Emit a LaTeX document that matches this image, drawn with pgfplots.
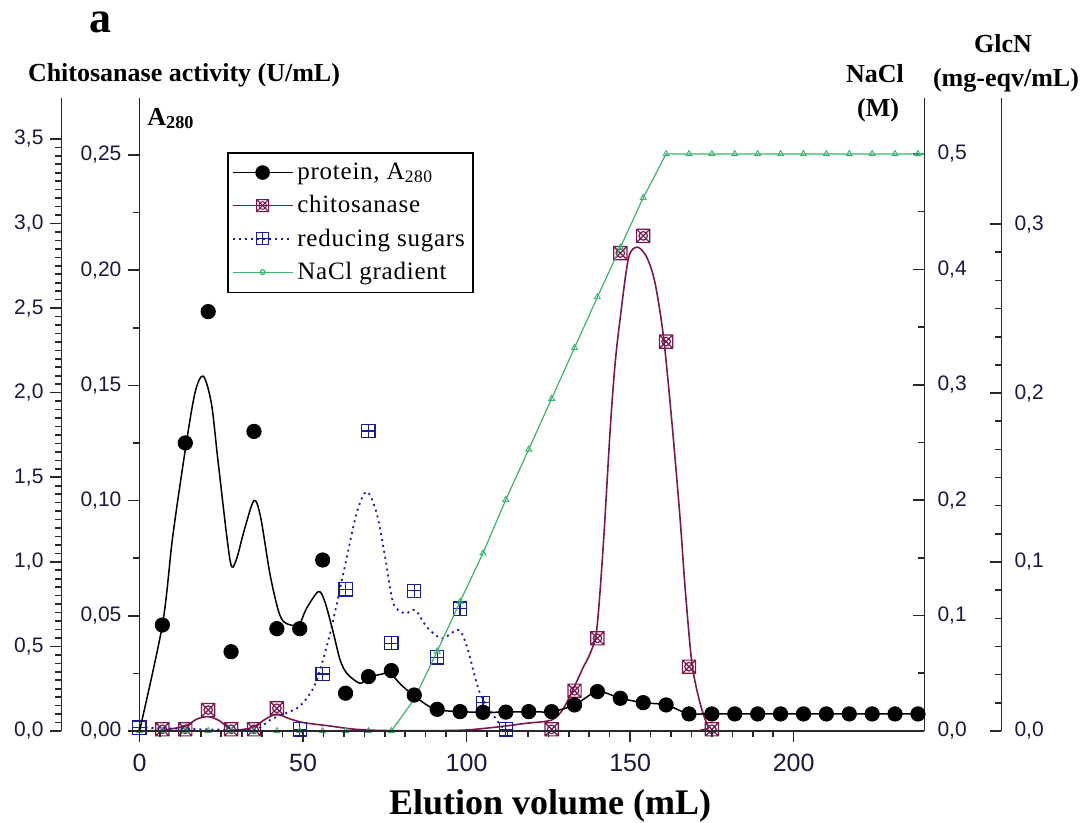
\documentclass[border=0pt]{standalone}
\usepackage{fontspec}
\setmainfont{Liberation Serif}
\newfontfamily\arial{Liberation Sans}
\usepackage{pgfplots}
\pgfplotsset{compat=1.18}
\definecolor{maroonc}{RGB}{122,24,78}
\definecolor{navyc}{RGB}{28,28,150}
\definecolor{greenc}{RGB}{60,179,113}
\definecolor{tickc}{RGB}{25,25,60}
\definecolor{axc}{RGB}{40,40,40}

\pgfdeclareplotmark{boxx}{%
  \pgfpathrectangle{\pgfpoint{-\pgfplotmarksize}{-\pgfplotmarksize}}{\pgfpoint{2\pgfplotmarksize}{2\pgfplotmarksize}}%
  \pgfpathmoveto{\pgfpoint{-\pgfplotmarksize}{-\pgfplotmarksize}}%
  \pgfpathlineto{\pgfpoint{\pgfplotmarksize}{\pgfplotmarksize}}%
  \pgfpathmoveto{\pgfpoint{-\pgfplotmarksize}{\pgfplotmarksize}}%
  \pgfpathlineto{\pgfpoint{\pgfplotmarksize}{-\pgfplotmarksize}}%
  \pgfpathcircle{\pgfpointorigin}{0.65\pgfplotmarksize}%
  \pgfusepathqstroke}
\pgfdeclareplotmark{boxplus}{%
  \pgfpathrectangle{\pgfpoint{-\pgfplotmarksize}{-\pgfplotmarksize}}{\pgfpoint{2\pgfplotmarksize}{2\pgfplotmarksize}}%
  \pgfpathmoveto{\pgfpoint{-\pgfplotmarksize}{0pt}}%
  \pgfpathlineto{\pgfpoint{\pgfplotmarksize}{0pt}}%
  \pgfpathmoveto{\pgfpoint{0pt}{-\pgfplotmarksize}}%
  \pgfpathlineto{\pgfpoint{0pt}{\pgfplotmarksize}}%
  \pgfusepathqstroke}

\tikzset{titlelab/.style={font=\bfseries\fontsize{13}{17}\selectfont, inner sep=0pt}}
\pgfplotsset{
  base/.style={scale only axis, width=392.5pt, height=316.5pt,
    xmin=0, xmax=240, at={(0pt,0pt)}, anchor=south west,
    axis line style={line width=0.9pt, axc},
    major tick length=5.5pt, minor tick length=3pt,
    every tick/.append style={line width=0.8pt, axc},
    ticklabel style={font=\arial\fontsize{10.5}{12}\selectfont, text=tickc},
    /pgf/number format/assume math mode=true,
    yticklabel style={/pgf/number format/fixed, /pgf/number format/fixed zerofill, /pgf/number format/use comma},
  },
}

\begin{document}
\begin{tikzpicture}
\path[use as bounding box] (-69.75pt,-46pt) rectangle (471.75pt,365.5pt);

% ---------- chitosanase (outer left axis)
\begin{axis}[base, ymin=0, ymax=3.742,
  axis x line=none, axis y line*=left, tick align=outside,
  ytick={0,0.5,1,1.5,2,2.5,3,3.5}, minor y tick num=9,
  y axis line style={xshift=-39pt}, ytick style={xshift=-39pt},
  yticklabel style={xshift=-39pt, /pgf/number format/precision=1},
  ylabel={Chitosanase activity (U/mL)},
  every axis y label/.style={at={(axis description cs:0.0567,1.0253)}, anchor=base, titlelab},
]
\addplot[maroonc, line width=0.8pt, smooth, tension=0.5] coordinates {
(0,0) (7,0.005) (14,0.03) (17.5,0.07) (21,0.085) (24.5,0.06) (28,0.008) (32,0.01)
(35,0.025) (38.5,0.07) (42,0.10) (45.5,0.075) (50,0.05) (58,0.03) (65,0.012) (72,0.004)
(80,0.002) (90,0.002) (100,0.006) (110,0.025) (118,0.045) (126,0.065) (129.5,0.13)
(132.9,0.26) (135.5,0.37) (137.8,0.46) (139.8,0.60) (141.8,1.10) (143.9,1.78) (145.4,2.17)
(146.9,2.43) (149.5,2.795) (152.2,2.86) (155.1,2.80) (157.6,2.65) (160.2,2.33) (162.8,1.82)
(165.3,1.25) (166.8,0.85) (168.9,0.40) (171.4,0.164) (173.9,0.025) (176,0) (240,0)};
\addplot[maroonc, only marks, mark=boxx, mark size=3.3pt, mark options={line width=0.6pt}] coordinates {
(7,0.01) (14,0.01) (21,0.124) (28,0.01) (35,0.01) (42,0.134) (126,0.01) (133,0.238)
(140,0.548) (147,2.825) (154,2.927) (161,2.302) (168,0.38) (175,0.01)};
\end{axis}

% ---------- GlcN (outer right axis): reducing sugars
\begin{axis}[base, ymin=0, ymax=0.3746,
  axis x line=none, axis y line*=right, tick align=inside,
  ytick={0,0.1,0.2,0.3}, minor y tick num=5,
  y axis line style={xshift=38.5pt}, ytick style={xshift=38.5pt},
  yticklabel style={xshift=41.5pt, /pgf/number format/precision=1},
  extra description/.code={
    \node[titlelab, anchor=base] at (axis description cs:1.1,1.0711) {GlcN};
    \node[titlelab, anchor=base] at (axis description cs:1.1038,1.0174) {(mg-eqv/mL)};
  },
]
\addplot[navyc, line width=0.9pt, dash pattern=on 1pt off 2pt, smooth, tension=0.5] coordinates {
(0,0.002) (20,0.001) (35,0.001) (39.9,0.0065) (44,0.010) (48.1,0.0134) (51,0.019) (54.2,0.030)
(58.3,0.058) (62.3,0.093) (66.4,0.129) (69.5,0.1416) (72.5,0.129) (75.1,0.103) (77.6,0.0756)
(81.2,0.0696) (84.3,0.0716) (87.8,0.0617) (92.4,0.0548) (97.5,0.0598) (100.1,0.050)
(104.1,0.0223) (109.2,0.0065) (111.8,0.001) (115,0)};
\addplot[navyc, only marks, mark=boxplus, mark size=3.3pt, mark options={line width=0.6pt}] coordinates {
(0,0.002) (49,0.001) (56,0.0337) (63,0.0838) (70,0.1775) (77,0.0519) (84,0.083)
(91,0.0436) (98,0.0724) (105,0.0167) (112,0.001)};
\end{axis}

% ---------- NaCl (right axis)
\begin{axis}[base, ymin=0, ymax=0.5485,
  axis x line=none, axis y line*=right, tick align=inside,
  ytick={0,0.1,0.2,0.3,0.4,0.5}, minor y tick num=1,
  yticklabel style={xshift=3pt, /pgf/number format/precision=1},
  extra description/.code={
    \node[titlelab, anchor=base] at (axis description cs:0.937,1.0237) {NaCl};
    \node[titlelab, anchor=base] at (axis description cs:0.9408,0.970) {(M)};
  },
]
\addplot[greenc, line width=0.6pt, mark=triangle, mark size=1.7pt, mark options={line width=0.45pt}] coordinates {
(0,0) (7,0) (14,0) (21,0) (28,0) (35,0) (42,0) (49,0) (56,0) (63,0) (70,0) (77,0)
(84,0.0275) (91,0.069) (98,0.112) (105,0.154) (112,0.2005) (119,0.244) (126,0.288)
(133,0.332) (140,0.376) (147,0.419) (154,0.462) (161,0.5) (168,0.5) (175,0.5) (182,0.5)
(189,0.5) (196,0.5) (203,0.5) (210,0.5) (217,0.5) (224,0.5) (231,0.5) (238,0.5)};
\addplot[greenc, line width=0.6pt, forget plot] coordinates {(238,0.5) (240,0.5)};
\end{axis}

% ---------- main axis: A280 + x axis + legend
\begin{axis}[base, ymin=0, ymax=0.2747,
  axis x line*=bottom, axis y line*=left, tick align=outside,
  xtick={0,50,100,150,200}, minor x tick num=7,
  ytick={0,0.05,0.1,0.15,0.2,0.25}, minor y tick num=1,
  yticklabel style={/pgf/number format/precision=2},
  xticklabel style={font=\arial\fontsize{12.5}{14}\selectfont, yshift=-2.3pt},
  xlabel={Elution volume (mL)},
  xlabel style={at={(axis description cs:0.523,-0.1327)}, anchor=base, font=\bfseries\fontsize{18}{20}\selectfont},
  ylabel={A\textsubscript{280}},
  every axis y label/.style={at={(axis description cs:0.0096,0.9573)}, anchor=base west, font=\bfseries\fontsize{13}{15}\selectfont, inner sep=0pt},
  title={a},
  every axis title/.style={at={(axis description cs:-0.0503,1.1027)}, anchor=base, font=\bfseries\fontsize{22}{24}\selectfont},
  legend image code/.code={\draw[mark repeat=2,mark phase=2,#1] plot coordinates {(0pt,0pt) (15pt,0pt) (30pt,0pt)};},
  legend style={at={(0.1115,0.9147)}, anchor=north west, draw=black, line width=0.8pt, fill=white,
    font=\fontsize{12.5}{14}\selectfont\addfontfeatures{LetterSpace=3}, row sep=2.5pt, inner xsep=2pt, inner ysep=3pt},
  legend cell align=left,
]
\addlegendimage{black, line width=0.7pt, mark=*, mark size=3.3pt}
\addlegendentry{protein, A\textsubscript{280}}
\addlegendimage{maroonc, line width=0.7pt, mark=boxx, mark size=3pt, mark options={line width=0.5pt}}
\addlegendentry{chitosanase}
\addlegendimage{navyc, line width=0.8pt, dash pattern=on 1pt off 2pt, mark=boxplus, mark size=3pt, mark options={solid, line width=0.5pt}}
\addlegendentry{reducing sugars}
\addlegendimage{greenc, line width=0.6pt, mark=o, mark size=1.2pt}
\addlegendentry{NaCl gradient}

\addplot[black, line width=0.75pt, smooth, tension=0.5, forget plot] coordinates {
(0,0) (7,0.046) (10.15,0.0843) (14,0.122) (17,0.147) (19.5,0.154) (22,0.142) (24.1,0.116)
(27.7,0.074) (29.5,0.074) (32,0.087) (35,0.100) (37,0.093) (39.9,0.068) (42.5,0.052)
(44.5,0.047) (48.6,0.046) (51,0.053) (54.7,0.0605) (56.7,0.056) (59.3,0.0424) (61.3,0.031)
(63.4,0.025) (67.4,0.0207) (70,0.0232) (73.5,0.0245) (76.6,0.025) (80,0.020) (83.7,0.0156)
(87.3,0.0118) (90.9,0.0092) (98,0.0084) (105,0.0081) (112,0.0082) (119,0.0084) (126,0.0084)
(133,0.0113) (140,0.0171) (147,0.0142) (154,0.0123) (161,0.0113) (168,0.0074) (175,0.0074)
(240,0.0074)};
\addplot[black, only marks, mark=*, mark size=3.6pt, forget plot] coordinates {
(7,0.046) (14,0.125) (21,0.182) (28,0.0344) (35,0.130) (42,0.0444) (49,0.0444) (56,0.0742)
(63,0.0164) (70,0.0236) (77,0.0262) (84,0.0156) (91,0.0094) (98,0.0084) (105,0.0081)
(112,0.0082) (119,0.0084) (126,0.0084) (133,0.0113) (140,0.0171) (147,0.0142) (154,0.0123)
(161,0.0113) (168,0.0074) (175,0.0074) (182,0.0074) (189,0.0074) (196,0.0074) (203,0.0074)
(210,0.0074) (217,0.0074) (224,0.0074) (231,0.0074) (238,0.0074)};
\end{axis}
\end{tikzpicture}
\end{document}
